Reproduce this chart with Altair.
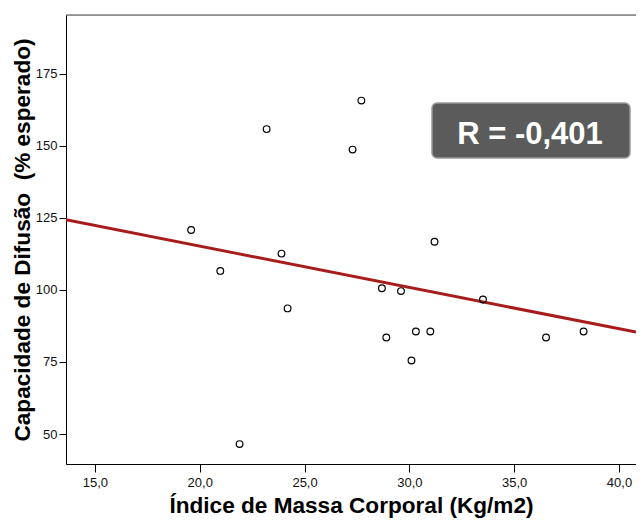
import altair as alt
import pandas as pd

# Data
bmi = [19.59, 20.98, 21.90, 23.19, 23.90, 24.19, 27.29, 27.71, 28.69, 28.90,
       29.60, 30.10, 30.31, 31.00, 31.20, 33.51, 36.52, 38.31]
dlco = [120.8, 106.6, 46.5, 155.8, 112.6, 93.6, 148.7, 165.7, 100.6, 83.5,
        99.6, 75.5, 85.6, 85.6, 116.7, 96.7, 83.5, 85.6]

x_ticks = [15, 20, 25, 30, 35, 40]
y_ticks = [50, 75, 100, 125, 150, 175]
annotation = ["R = -0,401"]

x_title = "Índice de Massa Corporal (Kg/m2)"
y_title = "Capacidade de Difusão\u00a0 (% esperado)"

W, H = 570, 449
X_DOMAIN = [13.62, 40.81]
Y_DOMAIN = [39.6, 195.4]
FONT = "Liberation Sans"

df = pd.DataFrame({"x": bmi, "y": dlco})
ann = pd.DataFrame({"label": annotation})

xscale = alt.Scale(domain=X_DOMAIN, nice=False, zero=False)
yscale = alt.Scale(domain=Y_DOMAIN, nice=False, zero=False)

xaxis = alt.Axis(
    title=x_title, values=x_ticks, grid=False,
    labelExpr="replace(format(datum.value, '.1f'), '.', ',')",
    labelFont=FONT, labelFontSize=13, labelColor="#111",
    titleFont=FONT, titleFontSize=22.6, titleFontWeight="bold", titleColor="#000",
    titlePadding=5, tickSize=8, tickColor="#000", domainColor="#000",
    labelPadding=4,
)
yaxis = alt.Axis(
    title=y_title, values=y_ticks, grid=False, format="d",
    labelFont=FONT, labelFontSize=13, labelColor="#111",
    titleFont=FONT, titleFontSize=22.6, titleFontWeight="bold", titleColor="#000",
    titlePadding=1, tickSize=7, tickColor="#000", domainColor="#000",
    labelPadding=2,
)

points = alt.Chart(df).mark_point(
    shape="circle", filled=False, color="#000", size=45, strokeWidth=1.2, opacity=1
).encode(
    x=alt.X("x:Q", scale=xscale, axis=xaxis),
    y=alt.Y("y:Q", scale=yscale, axis=yaxis),
)

line = alt.Chart(df).transform_regression(
    "x", "y", extent=X_DOMAIN
).mark_line(color="#a81c1c", strokeWidth=3, clip=True).encode(
    x=alt.X("x:Q", scale=xscale),
    y=alt.Y("y:Q", scale=yscale),
)

top_rule = alt.Chart(ann).mark_rule(color="#444", strokeWidth=1).encode(
    x=alt.value(0), x2=alt.value(W), y=alt.value(0)
)

box = alt.Chart(ann).mark_rect(
    fill="#5b5b5b", stroke="#9a9a9a", strokeWidth=1.5, cornerRadius=5
).encode(
    x=alt.value(366), x2=alt.value(564), y=alt.value(88), y2=alt.value(143)
)

label = alt.Chart(ann).mark_text(
    font=FONT, fontSize=31, fontWeight="bold", color="#ffffff",
    align="center", baseline="alphabetic"
).encode(
    x=alt.value(464), y=alt.value(129), text="label:N"
)

chart = alt.layer(line, points, box, label, top_rule).properties(
    width=W, height=H,
    autosize=alt.AutoSizeParams(type="none"),
    padding={"left": 58, "top": 7, "right": 0, "bottom": 54},
).configure_view(
    fill="#f0f0f0", stroke=None
).configure(background="#ffffff")

chart.save("out.html", embed_options={"renderer": "svg", "actions": False})
